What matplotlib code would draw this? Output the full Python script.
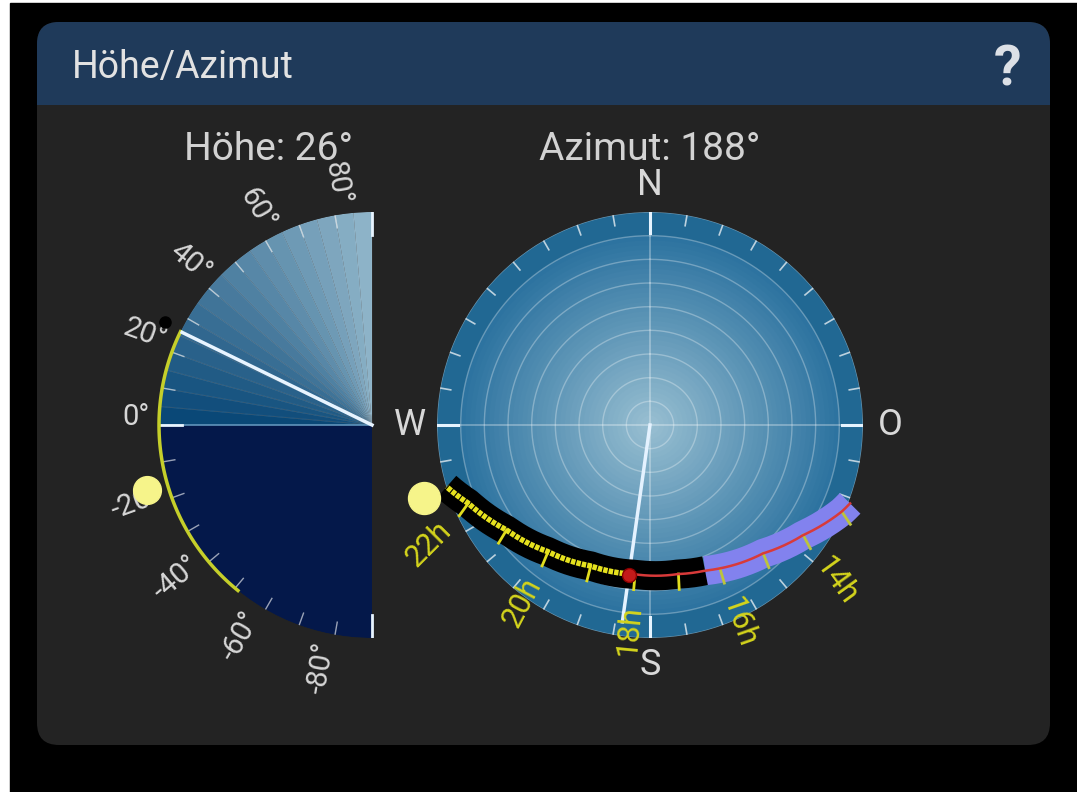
import numpy as np
import matplotlib
matplotlib.use('Agg')
import matplotlib.pyplot as plt
from matplotlib.patches import FancyBboxPatch, Rectangle
from matplotlib.colors import LinearSegmentedColormap

plt.rcParams['font.family'] = ['Roboto', 'DejaVu Sans']

# current moon position and sun position
altitude_now = 26
azimuth_now = 188
sun_alt = -16
sun_az = 252

# altitude range covered by the yellow arc on the left scale
alt_arc = [26, -51]
alt_labels = [80, 60, 40, 20, 0, -20, -40, -60, -80]

# moon path over the day (hour, azimuth, altitude)
path_hour = [12.8, 13, 14, 15, 16, 16.35, 17, 18, 19, 20, 21, 22, 22.7]
path_az = [111.4, 114.3, 125.7, 138.6, 154.0, 159.3, 169.2, 185.7, 202.8, 218.8, 233.8, 246.7, 253.1]
path_alt = [-0.8, 1.1, 10.3, 17.7, 22.6, 24.2, 25.9, 26.6, 25.4, 21.3, 14.9, 6.4, 0.2]
sunset_hour = 16.35
now_hour = 18
label_hours = [14, 16, 18, 20, 22]

compass_labels = ['N', 'O', 'S', 'W']
compass_az = [0, 90, 180, 270]

W, H = 1077, 792
fig = plt.figure(figsize=(W / 100, H / 100), dpi=100)

# background / card in pixel coordinates
bg = fig.add_axes([0, 0, 1, 1])
bg.set_xlim(0, W)
bg.set_ylim(H, 0)
bg.axis('off')
bg.add_patch(Rectangle((0, 0), W, H, color='white'))
bg.add_patch(Rectangle((10, 3), W - 10, H - 3, color='black'))
bg.add_patch(FancyBboxPatch((37, 22), 1013, 723, boxstyle='round,pad=0,rounding_size=22',
                            color='#232323', lw=0))
bg.add_patch(FancyBboxPatch((37, 22), 1013, 110, boxstyle='round,pad=0,rounding_size=22',
                            color='#1f3a5a', lw=0))
bg.add_patch(Rectangle((37, 105), 1013, 60, color='#232323', lw=0))
bg.text(72, 68, 'Höhe/Azimut', color='#e2e2e2', fontsize=27, va='center')
bg.text(1008, 70, '?', color='#dce0e6', fontsize=40, fontweight='bold', ha='center', va='center')
bg.text(268, 150, 'Höhe: {}°'.format(altitude_now), color='#d2d2d2', fontsize=28,
        ha='center', va='center')
bg.text(650, 150, 'Azimut: {}°'.format(azimuth_now), color='#d2d2d2', fontsize=28,
        ha='center', va='center')


def polar_axes(cx, cy, R):
    ax = fig.add_axes([(cx - R) / W, (H - cy - R) / H, 2 * R / W, 2 * R / H], projection='polar')
    ax.axis('off')
    return ax


def arc_line(line, steps=40):
    # let the polar transform draw each segment as an arc
    line.get_path()._interpolation_steps = steps
    return line


# ---------- left: altitude scale ----------
ax1 = polar_axes(372, 425, 213)


def alt_theta(a):
    return np.radians(180 - np.asarray(a, dtype=float))


fan_cmap = LinearSegmentedColormap.from_list('fan', ['#0a4877', '#8db3c8'])
steps = np.arange(0, 90, 5)
for i, a0 in enumerate(steps):
    ax1.bar(alt_theta(a0 + 2.5), 1, width=np.radians(5), bottom=0,
            color=fan_cmap(i / (len(steps) - 1)), edgecolor=(1, 1, 1, 0.08), linewidth=0.8)
ax1.bar(alt_theta(-45), 1, width=np.radians(90), bottom=0, color='#04184a', linewidth=0)
ax1.plot(alt_theta([0, 0]), [0, 1], color='#5f93bb', lw=1.2)

for a in range(-80, 90, 10):
    if a == 0:
        continue
    ax1.plot(alt_theta([a, a]), [0.94, 1.0], color=(1, 1, 1, 0.6), lw=1)
for a in (0, 90, -90):
    ax1.plot(alt_theta([a, a]), [0.89, 1.0], color='#e8f4ff', lw=2)

arc = np.linspace(alt_arc[0], alt_arc[1], 100)
ax1.plot(alt_theta(arc), np.ones_like(arc), color='#c5cf2a', lw=2.5, clip_on=False)
ax1.plot(alt_theta([altitude_now, altitude_now]), [0, 1], color='#e8f4ff', lw=2.5)

for a in alt_labels:
    ax1.text(alt_theta(a), 1.045, '{}°'.format(a), rotation=-a, rotation_mode='anchor',
             ha='right', va='baseline', fontsize=21, color='#d6d6d6', clip_on=False)

ax1.plot(alt_theta(altitude_now + 0.5), 1.085, 'o', color='black', ms=8, clip_on=False, zorder=9)
ax1.plot(alt_theta(sun_alt), 1.10, 'o', color='#f6f48a', ms=20, clip_on=False, zorder=10)
ax1.set_ylim(0, 1)

# ---------- right: compass ----------
ax2 = polar_axes(650, 425, 213)
ax2.set_theta_zero_location('N')
ax2.set_theta_direction(-1)

# radial gradient: overlapping discs, largest first
ring_cmap = LinearSegmentedColormap.from_list('rings', ['#9ac0d2', '#2d73a0'])
ax2.bar(0, 90, width=2 * np.pi, bottom=0, color='#216893', linewidth=0)
zsteps = np.arange(80, 0, -2)
for z in zsteps:
    ax2.bar(0, z, width=2 * np.pi, bottom=0, color=ring_cmap(z / 80), linewidth=0)

full = np.linspace(0, 2 * np.pi, 361)
for z in range(10, 91, 10):
    ax2.plot(full, np.full_like(full, z), color=(1, 1, 1, 0.3), lw=1)
for az in compass_az:
    ax2.plot(np.radians([az, az]), [0, 90], color=(1, 1, 1, 0.35), lw=1.2)
for az in range(0, 360, 10):
    if az % 90:
        ax2.plot(np.radians([az, az]), [85.5, 90], color=(1, 1, 1, 0.7), lw=1.2)
    else:
        ax2.plot(np.radians([az, az]), [81, 90], color='#e6f4ff', lw=2.2)
for lab, az in zip(compass_labels, compass_az):
    ax2.text(np.radians(az), 101.5, lab, ha='center', va='center', fontsize=26,
             color='#d8d8d8', clip_on=False)

ax2.plot(np.radians([azimuth_now, azimuth_now]), [0, 84], color='#e4f2ff', lw=2.5, zorder=3)

hour = np.array(path_hour)
th = np.radians(path_az)
zd = 90 - np.array(path_alt)
day = hour <= sunset_hour
night = hour >= sunset_hour
arc_line(ax2.plot(th[day], zd[day], color='#8282ee', lw=21, solid_capstyle='butt',
                  clip_on=False, zorder=4)[0])
arc_line(ax2.plot(th[night], zd[night], color='black', lw=21, solid_capstyle='butt',
                  clip_on=False, zorder=4)[0])
past = hour <= now_hour
future = hour >= now_hour
arc_line(ax2.plot(th[past], zd[past], color='#d83a3a', lw=1.8, clip_on=False, zorder=6)[0])
arc_line(ax2.plot(th[future], zd[future], color='#e6e21e', lw=4, linestyle=(0, (0.8, 0.2)),
                  clip_on=False, zorder=6)[0])

# hour ticks and labels, perpendicular to the path
X = zd * np.sin(th)
Y = zd * np.cos(th)
for i, h in enumerate(path_hour):
    if h != int(h) or i == 0 or i == len(path_hour) - 1:
        continue
    tx, ty = X[i + 1] - X[i - 1], Y[i + 1] - Y[i - 1]
    n = np.array([ty, -tx]) / np.hypot(tx, ty)
    p = np.array([X[i], Y[i]])
    if np.dot(n, p) < 0:
        n = -n
    e = p + 6.5 * n
    col = '#bcc43c' if h <= sunset_hour else '#e0dc1e'
    ax2.plot([th[i], np.arctan2(e[0], e[1])], [zd[i], np.hypot(*e)], color=col, lw=2,
             clip_on=False, zorder=5)
    if h in label_hours:
        d = 0.7 * n + 0.3 * p / np.hypot(*p)
        d = d / np.hypot(*d)
        q = p + 24 * d
        rot = np.degrees(np.arctan2(d[1], d[0]))
        if rot > 90:
            rot -= 180
        if rot < -90:
            rot += 180
        ax2.text(np.arctan2(q[0], q[1]), np.hypot(*q), '{}h'.format(int(h)), rotation=rot,
                 rotation_mode='anchor', ha='center', va='center', fontsize=22,
                 color='#d4d41c', clip_on=False, zorder=6)

ax2.plot(np.radians(azimuth_now), 90 - altitude_now, 'o', color='#c41a1a', mec='#8a0000',
         ms=10, zorder=8)
ax2.plot(np.radians(sun_az), 100.5, 'o', color='#f6f48a', ms=23, clip_on=False, zorder=8)
ax2.set_ylim(0, 90)

fig.savefig('out.png', dpi=100)
